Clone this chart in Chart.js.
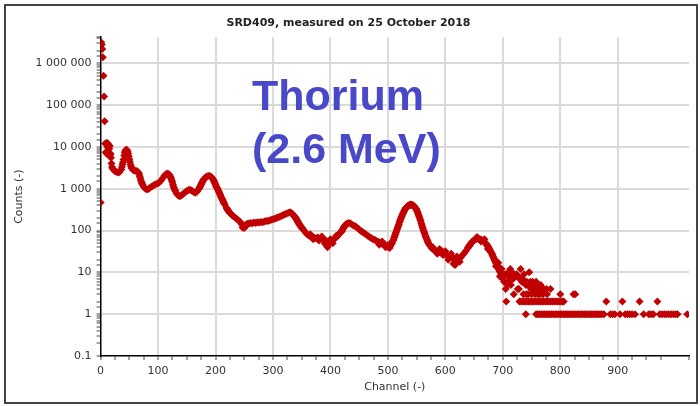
<!DOCTYPE html>
<html>
<head>
<meta charset="utf-8">
<script src="https://cdn.jsdelivr.net/npm/chart.js@4.4.0/dist/chart.umd.min.js"></script>
<style>
  body { margin: 0; background: #fff; }
  #wrap { width: 700px; height: 406px; }
</style>
</head>
<body>
<div id="wrap"><canvas id="myChart" width="700" height="406"></canvas></div>
<script>
// spectrum head (channels 0-20)
var headCh = [0, 1, 2, 3, 4, 5, 6, 7, 8, 9, 10, 11, 12, 13, 14, 15, 16, 17, 18, 19, 20];
var headCounts = [470, 3200000, 2800000, 2200000, 1400000, 500000, 160000, 41000, 12000, 7500, 11500, 12500, 10000, 11800, 11000, 9000, 10500, 7000, 5500, 4000, 3300];

// main band of the spectrum
var mainCh = [21, 24, 27, 30, 33, 36, 39, 42, 45, 48, 51, 54, 57, 60, 63, 66, 69, 72, 75, 78,
  81, 84, 87, 90, 93, 96, 99, 102, 105, 108, 111, 114, 117, 120, 123, 126, 129, 132, 135, 138,
  141, 144, 147, 150, 153, 156, 159, 162, 165, 168, 171, 174, 177, 180, 183, 186, 189, 192, 195, 198,
  201, 204, 207, 210, 213, 216, 219, 222, 225, 228, 231, 234, 237, 240, 243, 246, 249, 252, 255, 258,
  261, 264, 267, 270, 273, 276, 279, 282, 285, 288, 291, 294, 297, 300, 303, 306, 309, 312, 315, 318,
  321, 324, 327, 330, 333, 336, 339, 342, 345, 348, 351, 354, 357, 360, 363, 366, 369, 372, 375, 378,
  381, 384, 387, 390, 393, 396, 399, 402, 405, 408, 411, 414, 417, 420, 423, 426, 429, 432, 435, 438,
  441, 444, 447, 450, 453, 456, 459, 462, 465, 468, 471, 474, 477, 480, 483, 486, 489, 492, 495, 498,
  501, 504, 507, 510, 513, 516, 519, 522, 525, 528, 531, 534, 537, 540, 543, 546, 549, 552, 555, 558,
  561, 564, 567, 570, 573, 576, 579, 582, 585, 588, 591, 594, 597, 600, 603, 606, 609, 612, 615, 618,
  621, 624, 627, 630, 633, 636, 639, 642, 645, 648, 651, 654, 657, 660, 663, 666, 669, 672, 675, 678,
  681, 684, 687, 690, 693, 696, 699];
var mainCounts = [3000, 2700, 2550, 2450, 2500, 2900, 4300, 7300, 8500, 7000, 4400, 3100, 2750, 2700, 2650, 2450, 1800, 1350, 1120, 1000,
  960, 1000, 1080, 1150, 1220, 1280, 1330, 1400, 1550, 1780, 2050, 2250, 2300, 2150, 1700, 1250, 950, 780, 690, 660,
  700, 760, 820, 880, 930, 950, 900, 830, 800, 860, 980, 1200, 1450, 1700, 1900, 2000, 2050, 1950, 1750, 1450,
  1150, 960, 780, 620, 510, 420, 350, 300, 265, 240, 220, 205, 190, 175, 160, 140, 125, 135, 145, 148,
  152, 150, 155, 152, 158, 155, 160, 158, 165, 168, 170, 175, 180, 185, 192, 200, 208, 215, 225, 235,
  245, 255, 265, 275, 255, 230, 205, 175, 148, 128, 112, 100, 88, 80, 75, 72, 70, 67, 65, 68,
  64, 66, 62, 60, 56, 52, 58, 55, 60, 66, 70, 78, 88, 98, 118, 135, 148, 152, 148, 138,
  130, 125, 115, 106, 98, 92, 86, 80, 75, 70, 66, 62, 60, 56, 54, 52, 50, 47, 45, 42,
  40, 42, 50, 62, 82, 108, 140, 185, 235, 290, 340, 380, 405, 415, 405, 375, 330, 265, 205, 150,
  112, 85, 66, 52, 43, 38, 35, 33, 32, 33, 30, 32, 30, 27, 25, 23, 24, 22, 20, 20,
  19, 21, 23, 26, 29, 33, 38, 44, 50, 56, 60, 63, 64, 63, 60, 57, 52, 46, 40, 33,
  28, 22, 18, 15, 12, 10, 8];

// extra channels read on the steep flanks of the peaks
var steepCh = [37, 38, 40, 41, 43, 44, 46, 47, 49, 50, 52, 53, 67, 68, 70, 71, 73,
  121, 122, 124, 125, 127, 128, 130,
  172, 173, 175, 176, 178, 179, 196, 197, 199, 200, 202, 203, 205, 206, 208, 209, 211, 212, 214, 215, 220, 221, 223, 224,
  334, 335, 337, 338, 340, 341, 343, 344, 346, 347, 349, 350, 352,
  418, 419, 421, 422, 424, 425, 427,
  506, 508, 509, 511, 512, 514, 515, 517, 518, 520, 521, 523, 524, 526, 527, 529, 530, 532, 533, 535, 536, 538, 539,
  541, 542, 544, 545, 547, 548, 550, 551, 553, 554, 556, 557, 559, 560, 562, 563, 565, 566, 568, 569, 571,
  640, 641, 643, 644, 646, 647, 670, 671, 673, 674, 676, 677, 679, 680, 682, 683, 685, 686, 688, 689, 691, 692, 694, 695, 697, 698];
var steepCounts = [3300, 3800, 5000, 6200, 8000, 8400, 8300, 7700, 6000, 5100, 3800, 3400, 2250, 2000, 1600, 1450, 1250,
  2000, 1850, 1550, 1400, 1120, 1030, 880,
  1050, 1120, 1280, 1370, 1530, 1620, 1650, 1550, 1350, 1250, 1080, 1020, 900, 840, 720, 670, 580, 545, 480, 450, 330, 315, 285, 275,
  248, 240, 222, 213, 195, 185, 165, 156, 140, 134, 122, 117, 108,
  92, 95, 105, 112, 124, 130, 140,
  47, 55, 58, 68, 75, 90, 98, 118, 128, 155, 170, 200, 218, 252, 270, 308, 325, 355, 368, 390, 398, 410, 412,
  412, 410, 395, 385, 360, 345, 310, 288, 242, 222, 185, 168, 135, 122, 100, 92, 76, 70, 60, 56, 48,
  40, 42, 46, 48, 52, 54, 50, 48, 44, 42, 37, 35, 31, 29, 26, 24, 21, 19, 17, 16, 14, 13, 11, 10.5, 9, 8.5];

// scattered points around the band
var noiseCh = [11, 17, 247, 250, 253, 365, 370, 380, 385, 390, 393, 395, 398, 400, 404, 410,
  485, 490, 496, 500, 503, 578, 586, 590, 596, 600, 605, 610, 614, 617, 620, 625,
  655, 662, 668, 674, 688, 692, 695, 698, 700, 702, 704];
var noiseCounts = [6800, 6500, 118, 115, 128, 82, 62, 58, 72, 50, 44, 40, 48, 62, 50, 75,
  46, 55, 40, 45, 38, 40, 28, 36, 26, 32, 20, 28, 16, 15, 24, 18,
  70, 55, 62, 36, 14, 17, 8, 12, 7, 6, 9];

// low count tail (integer counts)
var tailCh = [705, 706, 708, 709, 710, 711, 712, 713, 714, 715, 716, 717, 718, 719, 720, 722, 724, 726, 727, 728,
  729, 731, 733, 734, 735, 736, 737, 738, 740, 741, 742, 743, 744, 746, 747, 748, 749, 750, 751, 752,
  753, 755, 756, 757, 758, 760, 761, 762, 765, 766, 767, 770, 771, 776, 777, 783, 800, 823, 826,
  729, 732, 735, 738, 741, 744, 747, 750, 753, 756, 759, 762, 765, 768, 771, 774, 777, 780, 783, 786,
  789, 792, 795, 798, 801, 804, 806, 880, 908, 938, 969,
  740, 758, 761, 764, 767, 770, 773, 776, 779, 782, 785, 788, 791, 794, 797, 800, 803, 806, 809, 812,
  815, 818, 821, 824, 827, 830, 833, 836, 839, 842, 845, 848, 851, 854, 857, 860, 863, 866, 869, 872,
  876, 887, 891, 895, 904, 913, 917, 921, 925, 930, 945, 954, 958, 962, 973, 977, 981, 985, 989, 993,
  997, 1001, 1004, 1021];
var tailCounts = [4, 2, 5, 6, 8, 10, 11, 12, 5, 10, 8, 7, 7, 3, 9, 8, 9, 4, 8, 4,
  7, 12, 6, 7, 6, 3, 9, 6, 5, 3, 6, 5, 3, 10, 5, 6, 4, 3, 5, 6,
  4, 5, 3, 4, 6, 5, 3, 4, 3, 5, 4, 3, 4, 4, 3, 4, 3, 3, 3,
  2, 2, 2, 2, 2, 2, 2, 2, 2, 2, 2, 2, 2, 2, 2, 2, 2, 2, 2, 2,
  2, 2, 2, 2, 2, 2, 2, 2, 2, 2, 2,
  1, 1, 1, 1, 1, 1, 1, 1, 1, 1, 1, 1, 1, 1, 1, 1, 1, 1, 1, 1,
  1, 1, 1, 1, 1, 1, 1, 1, 1, 1, 1, 1, 1, 1, 1, 1, 1, 1, 1, 1,
  1, 1, 1, 1, 1, 1, 1, 1, 1, 1, 1, 1, 1, 1, 1, 1, 1, 1, 1, 1,
  1, 1, 1, 1];

var yTicks = [0.1, 1, 10, 100, 1000, 10000, 100000, 1000000];
var xLabelStep = 100;

function pares(ch, cnt) {
    return ch.map(function (c, i) { return { x: c, y: cnt[i] }; });
}

function fmt(v) {
    if (v < 1) return String(v);
    return String(Math.round(v)).replace(/\B(?=(\d{3})+(?!\d))/g, ' ');
}

function esMayorY(v) {
    return yTicks.some(function (t) { return Math.abs(v - t) / t < 1e-6; });
}

var puntos = pares(headCh, headCounts)
    .concat(pares(mainCh, mainCounts))
    .concat(pares(steepCh, steepCounts))
    .concat(pares(noiseCh, noiseCounts))
    .concat(pares(tailCh, tailCounts));

// marco y texto grande
var extras = {
    id: 'extras',
    beforeDraw: function (chart) {
        var c = chart.ctx;
        c.save();
        c.fillStyle = '#fff';
        c.fillRect(0, 0, chart.width, chart.height);
        c.restore();
    },
    afterDatasetsDraw: function (chart) {
        var c = chart.ctx;
        c.save();
        c.fillStyle = '#4848c8';
        c.font = 'bold 43px "Liberation Sans", Arial, sans-serif';
        c.textBaseline = 'alphabetic';
        c.fillText('Thorium', 252, 110);
        c.fillText('(2.6 MeV)', 252, 163);
        c.restore();
    },
    afterDraw: function (chart) {
        var c = chart.ctx;
        c.save();
        c.strokeStyle = '#444';
        c.lineWidth = 2;
        c.strokeRect(5, 5, 692, 398);
        c.restore();
    }
};

var ctx = document.getElementById('myChart').getContext('2d');
var myChart = new Chart(ctx, {
    type: 'scatter',
    data: {
        datasets: [{
            label: 'Counts',
            data: puntos,
            backgroundColor: '#c00000',
            borderColor: '#c00000',
            borderWidth: 0,
            pointStyle: 'rectRot',
            pointRadius: 4
        }]
    },
    options: {
        responsive: false,
        animation: false,
        layout: { padding: { top: 12, left: 8, right: 11, bottom: 10 } },
        plugins: {
            legend: { display: false },
            tooltip: { enabled: false },
            title: {
                display: true,
                text: 'SRD409, measured on 25 October 2018',
                color: '#222',
                font: { family: 'DejaVu Sans', size: 11, weight: 'bold' },
                padding: { top: 5, bottom: 7 }
            }
        },
        scales: {
            x: {
                type: 'linear',
                min: 0,
                max: 1024,
                afterFit: function (s) { s.height = 40; },
                border: { color: '#000', width: 1.5 },
                grid: {
                    color: function (c) {
                        var v = c.tick ? c.tick.value : 0;
                        return (v > 0 && v % xLabelStep === 0) ? '#dadada' : 'rgba(0,0,0,0)';
                    },
                    lineWidth: 2,
                    tickColor: '#444',
                    tickWidth: 1,
                    tickLength: 4
                },
                ticks: {
                    stepSize: 25,
                    autoSkip: false,
                    maxRotation: 0,
                    padding: 5,
                    color: '#333',
                    font: { family: 'DejaVu Sans', size: 11 },
                    callback: function (v) { return v % xLabelStep === 0 ? fmt(v) : ''; }
                },
                title: {
                    display: true,
                    text: 'Channel (-)',
                    color: '#333',
                    font: { family: 'DejaVu Sans', size: 11 },
                    padding: { top: 0, bottom: 2 }
                }
            },
            y: {
                type: 'logarithmic',
                min: 0.1,
                max: 4200000,
                afterFit: function (s) { s.width = 92.6; },
                border: { color: '#000', width: 1.5 },
                grid: {
                    color: function (c) {
                        var v = c.tick ? c.tick.value : 0;
                        return (esMayorY(v) && v > 0.1) ? '#dadada' : 'rgba(0,0,0,0)';
                    },
                    lineWidth: 2,
                    tickColor: '#444',
                    tickWidth: 1,
                    tickLength: 4
                },
                ticks: {
                    autoSkip: false,
                    padding: 5,
                    color: '#333',
                    font: { family: 'DejaVu Sans', size: 11 },
                    callback: function (v) { return esMayorY(v) ? fmt(v) : ''; }
                },
                title: {
                    display: true,
                    text: 'Counts (-)',
                    color: '#333',
                    font: { family: 'DejaVu Sans', size: 11 },
                    padding: { top: 5, bottom: 0 }
                }
            }
        }
    },
    plugins: [extras]
});
</script>
</body>
</html>
